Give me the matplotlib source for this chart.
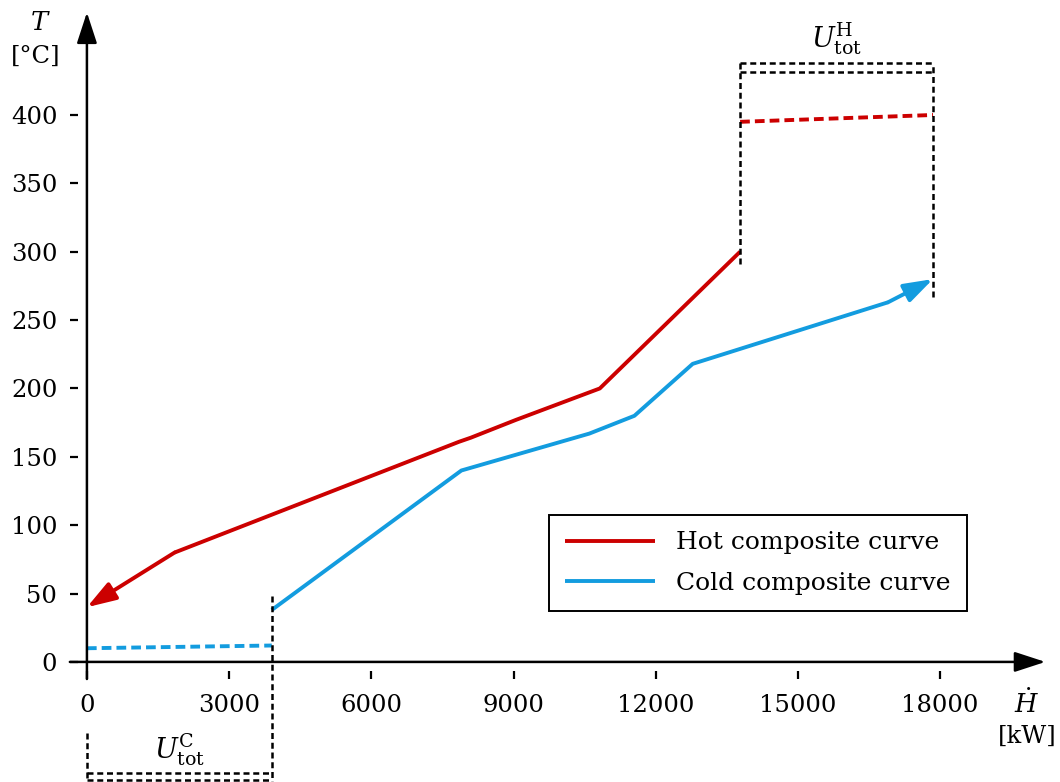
import matplotlib
matplotlib.use("Agg")
import matplotlib.pyplot as plt

plt.rcParams['font.family'] = ['DejaVu Serif']
plt.rcParams['mathtext.fontset'] = 'dejavuserif'

# Data
hot_H = [0, 1850, 7850, 8100, 9050, 10820, 13780]
hot_T = [40, 80, 161, 164, 177, 200, 300]
cold_H = [3900, 7900, 10600, 11550, 12780, 16900, 17850]
cold_T = [38, 140, 167, 180, 218, 263, 280]
hot_util_H = [13780, 17850]
hot_util_T = [395, 400]
cold_util_H = [0, 3900]
cold_util_T = [10, 12]
x_ticks = [0, 3000, 6000, 9000, 12000, 15000, 18000]
y_ticks = [0, 50, 100, 150, 200, 250, 300, 350, 400]

RED = '#cc0000'
BLUE = '#139cdf'

fig = plt.figure(figsize=(10.6, 7.82), dpi=100)
ax = fig.add_axes([0.0659, 0.1317, 0.9203, 0.8524])
ax.set_xlim(-360, 20220)
ax.set_ylim(-12.5, 475)
for s in ax.spines.values():
    s.set_visible(False)
ax.patch.set_visible(False)

# axes with arrows
ax_arrow = dict(arrowstyle='-|>,head_length=1.9,head_width=0.62', color='black', lw=1.8,
                shrinkA=0, shrinkB=0)
ax.annotate('', xy=(20220, 0), xytext=(-360, 0), arrowprops=ax_arrow, annotation_clip=False)
ax.annotate('', xy=(0, 475), xytext=(0, -12.5), arrowprops=ax_arrow, annotation_clip=False)

ax.set_xticks(x_ticks)
ax.set_yticks(y_ticks)
ax.set_xticklabels([str(v) for v in x_ticks])
ax.set_yticklabels([str(v) for v in y_ticks])
ax.tick_params(axis='both', direction='in', length=6, width=1.6, labelsize=17.5)
ax.tick_params(axis='x', pad=11)
ax.tick_params(axis='y', pad=9)

LW = 2.8
head = 'head_length=1.75,head_width=0.58'
# hot composite curve
line_hot, = ax.plot(hot_H[1:], hot_T[1:], color=RED, lw=LW, solid_capstyle='butt',
                    label='Hot composite curve')
ax.annotate('', xy=(hot_H[0], hot_T[0]), xytext=(hot_H[1], hot_T[1]),
            arrowprops=dict(arrowstyle='-|>,' + head, color=RED, lw=LW,
                            shrinkA=0, shrinkB=0))
# cold composite curve
line_cold, = ax.plot(cold_H[:-1], cold_T[:-1], color=BLUE, lw=LW, solid_capstyle='butt',
                     label='Cold composite curve')
ax.annotate('', xy=(cold_H[-1], cold_T[-1]), xytext=(cold_H[-2], cold_T[-2]),
            arrowprops=dict(arrowstyle='-|>,' + head, color=BLUE, lw=LW,
                            shrinkA=0, shrinkB=0))
# utilities
ax.plot(hot_util_H, hot_util_T, color=RED, lw=LW, dashes=(2.5, 1.3))
ax.plot(cold_util_H, cold_util_T, color=BLUE, lw=LW, dashes=(2.5, 1.3))

# dashed brackets
kw = dict(color='black', lw=1.8, dashes=(2.4, 1.5), clip_on=False)
ax.plot([hot_util_H[0], hot_util_H[0]], [291, 438], **kw)
ax.plot([hot_util_H[1], hot_util_H[1]], [267, 438], **kw)
ax.plot(hot_util_H, [438, 438], **kw)
ax.plot(hot_util_H, [431.5, 431.5], **kw)
ax.plot([cold_util_H[1], cold_util_H[1]], [48, -90], **kw)
ax.plot([0, 0], [-52, -90], **kw)
ax.plot(cold_util_H, [-81.2, -81.2], **kw)
ax.plot(cold_util_H, [-86.5, -86.5], **kw)

ax.text(sum(hot_util_H) / 2, 456, r'$U^{\mathrm{H}}_{\mathrm{tot}}$', fontsize=19.5,
        ha='center', va='center')
ax.text(sum(cold_util_H) / 2, -64, r'$U^{\mathrm{C}}_{\mathrm{tot}}$', fontsize=19.5,
        ha='center', va='center', clip_on=False)

# axis labels
fig.text(40 / 1060, 1 - 22 / 782, r'$T$', fontsize=18.5, ha='center', va='center')
fig.text(36 / 1060, 1 - 56 / 782, '[°C]', fontsize=17.5, ha='center', va='center')
fig.text(1027 / 1060, 1 - 703 / 782, r'$\dot{H}$', fontsize=18.5, ha='center', va='center')
fig.text(1027 / 1060, 1 - 736 / 782, '[kW]', fontsize=17.5, ha='center', va='center')

leg = ax.legend(handles=[line_hot, line_cold], loc='upper left',
                bbox_to_anchor=(549 / 1060, 1 - 515 / 782), bbox_transform=fig.transFigure,
                fontsize=18, frameon=True, fancybox=False, edgecolor='black',
                handlelength=3.6, handletextpad=0.85, borderpad=0.65, labelspacing=0.7,
                borderaxespad=0, handleheight=0.7)
leg.get_frame().set_linewidth(1.4)
leg.get_frame().set_alpha(1)

fig.savefig('out.png', dpi=100)
